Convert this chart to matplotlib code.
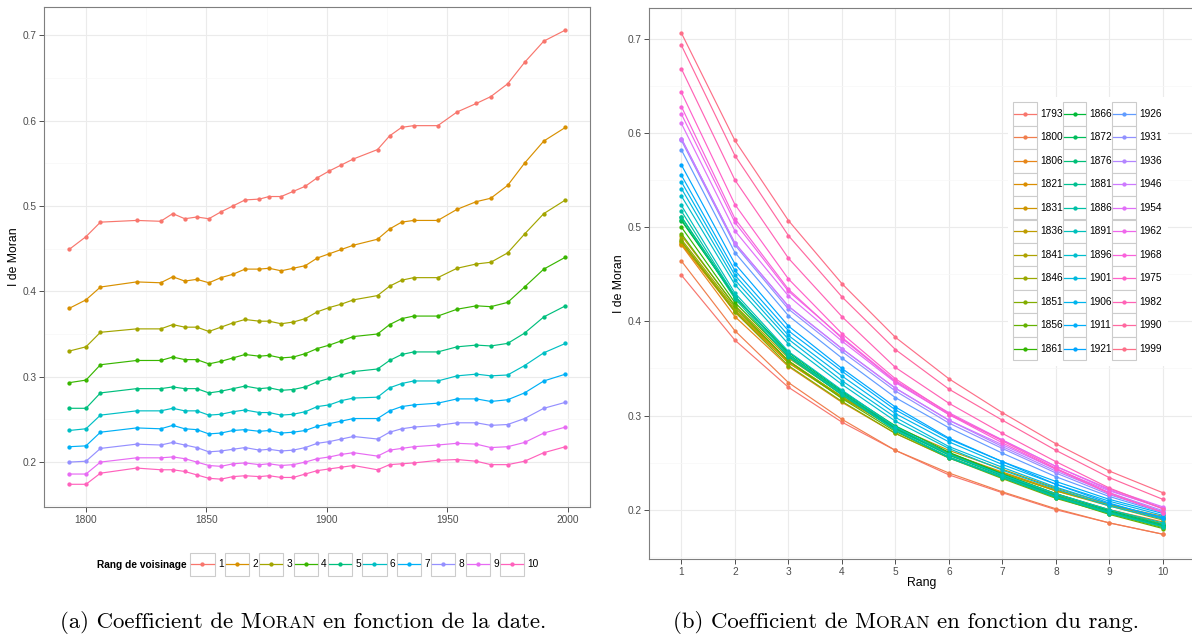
import numpy as np
import matplotlib
matplotlib.use("Agg")
import matplotlib.pyplot as plt
from matplotlib.patches import Rectangle
from matplotlib.lines import Line2D

# ---------------- data ----------------
years = [1793, 1800, 1806, 1821, 1831, 1836, 1841, 1846, 1851, 1856, 1861,
         1866, 1872, 1876, 1881, 1886, 1891, 1896, 1901, 1906, 1911, 1921,
         1926, 1931, 1936, 1946, 1954, 1962, 1968, 1975, 1982, 1990, 1999]
rangs = [1, 2, 3, 4, 5, 6, 7, 8, 9, 10]

rang_1 = [0.449, 0.464, 0.481, 0.483, 0.482, 0.491, 0.485, 0.487, 0.485, 0.493, 0.500,
          0.507, 0.508, 0.511, 0.511, 0.517, 0.523, 0.533, 0.541, 0.548, 0.555, 0.566,
          0.582, 0.592, 0.594, 0.594, 0.610, 0.620, 0.628, 0.643, 0.668, 0.693, 0.706]
rang_2 = [0.380, 0.390, 0.405, 0.411, 0.410, 0.417, 0.412, 0.414, 0.410, 0.416, 0.420,
          0.426, 0.426, 0.427, 0.424, 0.427, 0.430, 0.439, 0.444, 0.449, 0.454, 0.461,
          0.473, 0.481, 0.483, 0.483, 0.496, 0.505, 0.509, 0.524, 0.550, 0.576, 0.592]
rang_3 = [0.330, 0.335, 0.352, 0.356, 0.356, 0.361, 0.358, 0.358, 0.353, 0.358, 0.363,
          0.367, 0.365, 0.365, 0.362, 0.364, 0.368, 0.376, 0.381, 0.385, 0.390, 0.395,
          0.406, 0.413, 0.416, 0.416, 0.427, 0.432, 0.434, 0.445, 0.467, 0.491, 0.507]
rang_4 = [0.293, 0.296, 0.314, 0.319, 0.319, 0.323, 0.320, 0.320, 0.315, 0.318, 0.322,
          0.326, 0.324, 0.325, 0.322, 0.323, 0.327, 0.333, 0.337, 0.342, 0.347, 0.350,
          0.361, 0.368, 0.371, 0.371, 0.379, 0.383, 0.382, 0.387, 0.405, 0.426, 0.440]
rang_5 = [0.263, 0.263, 0.281, 0.286, 0.286, 0.288, 0.286, 0.286, 0.281, 0.283, 0.286,
          0.289, 0.286, 0.287, 0.284, 0.285, 0.288, 0.294, 0.298, 0.302, 0.306, 0.309,
          0.319, 0.326, 0.329, 0.329, 0.335, 0.337, 0.336, 0.339, 0.351, 0.370, 0.383]
rang_6 = [0.237, 0.239, 0.255, 0.260, 0.260, 0.263, 0.260, 0.260, 0.255, 0.256, 0.259,
          0.261, 0.258, 0.258, 0.255, 0.256, 0.259, 0.265, 0.267, 0.272, 0.275, 0.276,
          0.287, 0.292, 0.295, 0.295, 0.301, 0.303, 0.301, 0.302, 0.313, 0.328, 0.339]
rang_7 = [0.218, 0.219, 0.235, 0.240, 0.239, 0.243, 0.239, 0.238, 0.233, 0.234, 0.237,
          0.238, 0.236, 0.237, 0.234, 0.235, 0.237, 0.242, 0.245, 0.248, 0.251, 0.251,
          0.260, 0.265, 0.267, 0.269, 0.274, 0.274, 0.271, 0.273, 0.281, 0.295, 0.303]
rang_8 = [0.200, 0.201, 0.216, 0.221, 0.220, 0.223, 0.220, 0.217, 0.212, 0.213, 0.215,
          0.217, 0.214, 0.215, 0.213, 0.214, 0.217, 0.222, 0.224, 0.227, 0.230, 0.227,
          0.235, 0.239, 0.241, 0.243, 0.246, 0.246, 0.243, 0.244, 0.251, 0.263, 0.270]
rang_9 = [0.186, 0.186, 0.200, 0.205, 0.205, 0.206, 0.204, 0.200, 0.196, 0.195, 0.198,
          0.199, 0.197, 0.198, 0.196, 0.197, 0.200, 0.204, 0.206, 0.209, 0.211, 0.207,
          0.214, 0.216, 0.218, 0.220, 0.222, 0.221, 0.217, 0.218, 0.223, 0.234, 0.241]
rang_10 = [0.174, 0.174, 0.187, 0.193, 0.191, 0.191, 0.189, 0.185, 0.181, 0.180, 0.183,
           0.184, 0.183, 0.184, 0.182, 0.182, 0.186, 0.190, 0.192, 0.194, 0.196, 0.191,
           0.197, 0.198, 0.199, 0.202, 0.203, 0.201, 0.197, 0.197, 0.201, 0.211, 0.218]

moran = np.array([rang_1, rang_2, rang_3, rang_4, rang_5,
                  rang_6, rang_7, rang_8, rang_9, rang_10])

x_ticks_date = [1800, 1850, 1900, 1950, 2000]
y_ticks = [0.2, 0.3, 0.4, 0.5, 0.6, 0.7]

# ---------------- colours (ggplot2 hue palette) ----------------
def hue_pal(n, c=100.0, l=65.0):
    hs = np.linspace(15, 375, n + 1)[:n]
    out = []
    for h in hs:
        hr = np.deg2rad(h)
        U, V = c * np.cos(hr), c * np.sin(hr)
        Y = 100.0 * ((l + 16) / 116) ** 3
        Xn, Yn, Zn = 95.047, 100.0, 108.883
        t = Xn + 15 * Yn + 3 * Zn
        un, vn = 4 * Xn / t, 9 * Yn / t
        u = U / (13 * l) + un
        v = V / (13 * l) + vn
        X = 9.0 * Y * u / (4 * v)
        Z = -X / 3 - 5 * Y + 3 * Y / v
        X, Yy, Z = X / 100, Y / 100, Z / 100
        rgb = np.array([3.240479 * X - 1.537150 * Yy - 0.498535 * Z,
                        -0.969256 * X + 1.875992 * Yy + 0.041556 * Z,
                        0.055648 * X - 0.204043 * Yy + 1.057311 * Z])
        rgb = np.where(rgb <= 0.0031308, 12.92 * rgb, 1.055 * np.abs(rgb) ** (1 / 2.4) - 0.055)
        out.append(tuple(np.clip(rgb, 0, 1)))
    return out

col_rang = hue_pal(len(rangs))
col_year = hue_pal(len(years))

# ---------------- figure ----------------
W, H = 1192, 635
fig = plt.figure(figsize=(W / 100, H / 100), dpi=100)
fig.patch.set_facecolor("white")
FONT = ["Liberation Sans", "DejaVu Sans"]
plt.rcParams["font.family"] = FONT

def rect(l, t, r, b):
    return [l / W, 1 - b / H, (r - l) / W, (b - t) / H]

def fx(x):
    return x / W

def fy(y):
    return 1 - y / H

ax1 = fig.add_axes(rect(44.3, 7.3, 590.3, 507))
ax2 = fig.add_axes(rect(649.3, 8, 1195.1, 559.3))

lo, hi = moran.min(), moran.max()
pad = 0.05 * (hi - lo)
ylim = (lo - pad, hi + pad)

def style(ax):
    ax.set_facecolor("white")
    for s in ax.spines.values():
        s.set_color("#7F7F7F")
        s.set_linewidth(0.8)
    ax.tick_params(which="major", direction="out", length=3.3, width=0.6,
                   color="#333333", labelcolor="#4D4D4D", labelsize=7.3, pad=2.2)
    ax.tick_params(which="minor", length=0)
    ax.set_axisbelow(True)
    ax.grid(which="major", color="#EBEBEB", lw=0.8)
    ax.grid(which="minor", color="#F7F7F7", lw=0.5)
    ax.set_ylim(*ylim)
    ax.set_yticks(y_ticks)
    ax.set_yticklabels([f"{v:.1f}" for v in y_ticks])
    ax.set_yticks([0.15, 0.25, 0.35, 0.45, 0.55, 0.65], minor=True)

# left panel: Moran vs date
style(ax1)
ypad = 0.05 * (max(years) - min(years))
ax1.set_xlim(min(years) - ypad, max(years) + ypad)
ax1.set_xticks(x_ticks_date)
ax1.set_xticks([1825, 1875, 1925, 1975], minor=True)
for i, r in enumerate(rangs):
    ax1.plot(years, moran[i], color=col_rang[i], lw=0.85, marker="o", ms=3.1,
             mew=0, zorder=3)

# right panel: Moran vs rang
style(ax2)
ax2.set_xlim(0.4, 10.6)
ax2.set_xticks(rangs)
ax2.grid(which="minor", axis="x", visible=False)
for j, yr in enumerate(years):
    ax2.plot(rangs, moran[:, j], color=col_year[j], lw=0.85, marker="o", ms=3.1,
             mew=0, zorder=3)

# axis titles
fig.text(fx(14), fy(257), "I de Moran", rotation=90, ha="center", va="center",
         fontsize=8.8, color="black")
fig.text(fx(619), fy(283.5), "I de Moran", rotation=90, ha="center", va="center",
         fontsize=8.8, color="black")
fig.text(fx(922), fy(583), "Rang", ha="center", va="center", fontsize=8.8, color="black")

# ---------------- legends ----------------
def key(x0, y0, w, h, color, label, fs=7.3):
    fig.patches.append(Rectangle((fx(x0), fy(y0 + h)), w / W, h / H, transform=fig.transFigure,
                                 facecolor="white", edgecolor="#CCCCCC", lw=0.8, zorder=5))
    yc = fy(y0 + h / 2)
    fig.lines.append(Line2D([fx(x0 + 1), fx(x0 + w - 1)], [yc, yc], transform=fig.transFigure,
                            color=color, lw=0.9, zorder=6))
    fig.lines.append(Line2D([fx(x0 + w / 2)], [yc], transform=fig.transFigure, color=color,
                            marker="o", ms=3.1, mew=0, zorder=7))
    fig.text(fx(x0 + w + 3.4), yc, label, ha="left", va="center", fontsize=fs,
             color="black", zorder=7)

# bottom legend of the left panel
fig.text(fx(186.7), fy(565), "Rang de voisinage", ha="right", va="center",
         fontsize=7.3, fontweight="bold", color="black")
for i, r in enumerate(rangs):
    key(190.3 + i * 34.4, 552.5, 24.2, 23.6, col_rang[i], str(r))

# legend of the right panel
fig.patches.append(Rectangle((fx(1008), fy(366)), (1168 - 1008) / W, (366 - 97) / H,
                             transform=fig.transFigure, facecolor="white",
                             edgecolor="none", zorder=4))
nrow = 11
for j, yr in enumerate(years):
    c, r = divmod(j, nrow)
    key(1013.3 + c * 49.5, 102.3 + r * 23.45, 23.4, 23.4, col_year[j], str(yr))

# ---------------- captions (Computer Modern, small caps for MORAN) ----------------
renderer = fig.canvas.get_renderer()
CAP_FS = 16.4

def text_w(s, fs):
    t = fig.text(0, 0, s, fontsize=fs, family="cmr10")
    w = t.get_window_extent(renderer).width
    t.remove()
    return w

def caption(xc, yc, before, after, fs):
    sc = fs * 0.78
    space = 0.333 * fs * 100 / 72
    parts = [(before + "M", fs, 0), ("ORAN", sc, 0), (after, fs, space)]
    widths = [text_w(p, f) for p, f, _ in parts]
    total = sum(widths) + space
    x = xc - total / 2
    for (p, f, gap), w in zip(parts, widths):
        x += gap
        fig.text(fx(x), fy(yc), p, fontsize=f, family="cmr10", ha="left",
                 va="baseline", color="black")
        x += w

caption(303, 628, "(a) Coefficient de ", "en fonction de la date.", CAP_FS)
caption(906, 628, "(b) Coefficient de ", "en fonction du rang.", CAP_FS)

fig.savefig("out.png", dpi=100, facecolor="white")
